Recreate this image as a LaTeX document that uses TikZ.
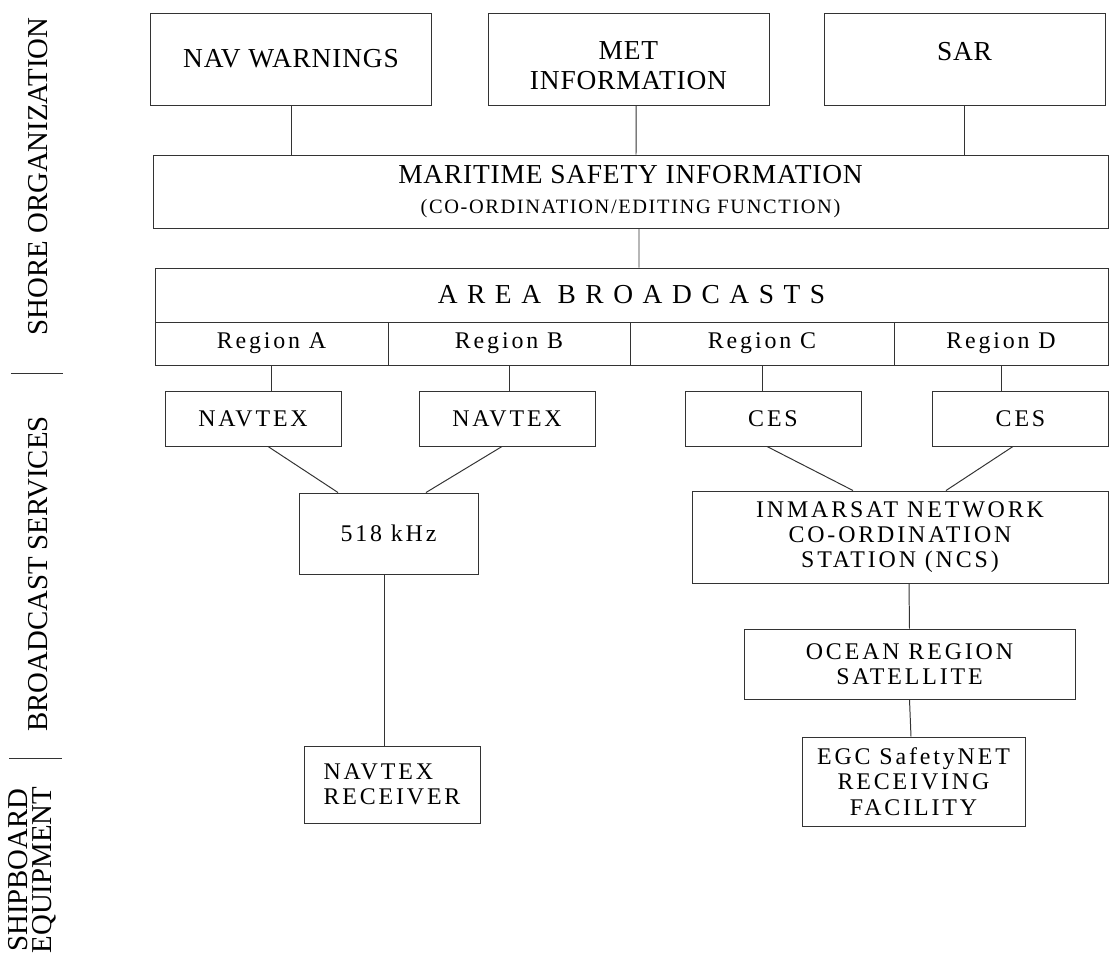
\documentclass[tikz,border=0pt]{standalone}
\usepackage{fontspec}
\setmainfont{Liberation Serif}
\newfontfamily\boxfont{Liberation Serif}[LetterSpace=3]
\usepackage{tikz}
\usetikzlibrary{positioning}
\newcommand{\bigtext}{\boxfont\fontsize{19.5}{21.3}\selectfont}
\newcommand{\smalltext}{\boxfont\addfontfeature{LetterSpace=12}\fontsize{17}{18}\selectfont}
\newcommand{\notetext}{\addfontfeature{LetterSpace=8}\fontsize{14.5}{17.5}\selectfont}
\newcommand{\sidetext}{\fontsize{20.5}{17}\selectfont}
\tikzstyle{sourcebox} = [draw=black!80, line width=0.7pt, align=center, minimum width=7.025cm, minimum height=2.3cm, inner sep=0pt, font=\bigtext]
\tikzstyle{bandbox} = [draw=black!80, line width=0.7pt, align=center, inner sep=0pt, font=\bigtext]
\tikzstyle{regionbox} = [draw=black!80, line width=0.7pt, align=center, minimum height=1.075cm, inner sep=0pt, font=\smalltext]
\tikzstyle{servicebox} = [draw=black!80, line width=0.7pt, align=center, minimum width=4.4cm, minimum height=1.375cm, inner sep=0pt, font=\smalltext]
\tikzstyle{unitbox} = [draw=black!80, line width=0.7pt, align=center, inner sep=0pt, font=\smalltext]
\tikzstyle{sidelabel} = [rotate=90, anchor=base, font=\sidetext]
\tikzstyle{line} = [draw, line width=0.7pt, color=black!80]
\newcommand{\msisource}[2]{node (t#1) [sourcebox] {#2}}
\newcommand{\msiregion}[3]{node (r#1) [regionbox, minimum width=#2] {#3}}
\newcommand{\msiservice}[2]{node (s#1) [servicebox] {#2}}

\begin{document}
\begin{tikzpicture}
\useasboundingbox (0,0) rectangle (27.725,-23.9);
% shore organization
\path (7.275,-1.475) \msisource{1}{NAV WARNINGS};
\path (t1)+(8.4375,0) node (t2) [sourcebox, text height=44pt] {MET\\INFORMATION};
\path (t2)+(8.4,0) node (t3) [sourcebox, text depth=11.4pt] {SAR};
\path (t2)+(0.05,-3.3125) node (msi) [bandbox, minimum width=23.875cm, minimum height=1.825cm] {MARITIME SAFETY INFORMATION\\{\notetext (CO-ORDINATION/EDITING FUNCTION)}};
\path [line] (t1.south) -- (t1.south |- msi.north);
\path [line] ([xshift=0.19cm]t2.south) -- ([xshift=0.1375cm]msi.north);
\path [line] (t3.south) -- (t3.south |- msi.north);

\path (msi)+(0.025,-2.5875) node (area) [bandbox, minimum width=23.825cm, minimum height=1.35cm] {\addfontfeature{LetterSpace=35}AREA BROADCASTS};
\path [line] ([xshift=0.2125cm]msi.south) -- ([xshift=0.1875cm]area.north);
\path (area)+(-9.0,-1.2125) \msiregion{A}{5.825cm}{Region A};
\path (rA)+(5.9375,0) \msiregion{B}{6.05cm}{Region B};
\path (rB)+(6.325,0) \msiregion{C}{6.6cm}{Region C};
\path (rC)+(5.975,0) \msiregion{D}{5.35cm}{Region D};

% broadcast services
\path (rA)+(-0.4625,-1.875) \msiservice{1}{NAVTEX};
\path (rB)+(-0.05,-1.875) \msiservice{2}{NAVTEX};
\path (rC)+(0.275,-1.875) \msiservice{3}{CES};
\path (rD)+(0.4875,-1.875) \msiservice{4}{CES};
\foreach \r/\s in {A/1,B/2,C/3,D/4}
  \path [line] (r\r.south) -- (r\r.south |- s\s.north);

\path (s1)+(3.3875,-2.875) node (khz) [unitbox, minimum width=4.475cm, minimum height=2.025cm] {518 kHz};
\path [line] ([xshift=0.375cm]s1.south) -- ([xshift=-1.2625cm]khz.north);
\path [line] ([xshift=-0.125cm]s2.south) -- ([xshift=0.9375cm]khz.north);

\path (s3)+(3.175,-2.9625) node (ncs) [unitbox, minimum width=10.4cm, minimum height=2.3cm] {INMARSAT NETWORK\\CO-ORDINATION\\STATION (NCS)};
\path [line] ([xshift=-0.15cm]s3.south) -- ([xshift=-1.175cm]ncs.north);
\path [line] ([xshift=-0.1875cm]s4.south) -- ([xshift=1.15cm]ncs.north);

\path (ncs)+(0.2375,-3.175) node (sat) [unitbox, minimum width=8.275cm, minimum height=1.75cm] {OCEAN REGION\\SATELLITE};
\path [line] ([xshift=0.225cm]ncs.south) -- (sat.north);

% shipboard equipment
\path (khz)+(0.0875,-6.275) node (rcv) [unitbox, align=left, minimum width=4.4cm, minimum height=1.925cm] {NAVTEX\\RECEIVER};
\path [line] ([xshift=-0.1125cm]khz.south) -- ([xshift=-0.2cm]rcv.north);
\path (sat)+(0.1,-2.9375) node (egc) [unitbox, minimum width=5.575cm, minimum height=2.225cm] {EGC SafetyNET\\RECEIVING\\FACILITY};
\path [line] (sat.south) -- ([xshift=-0.0625cm]egc.north);

% side labels
\path (1.175,-4.4125) node (shore) [sidelabel] {SHORE ORGANIZATION};
\path (1.175,-14.35) node (bcast) [sidelabel] {BROADCAST SERVICES};
\path (0.8125,-21.75) node (ship) [rotate=90, align=center, inner sep=0pt, font=\sidetext] {SHIPBOARD\\EQUIPMENT};
\path [line] (0.275,-9.325) -- (1.575,-9.325);
\path [line] (0.225,-18.95) -- (1.55,-18.95);
\end{tikzpicture}
\end{document}
